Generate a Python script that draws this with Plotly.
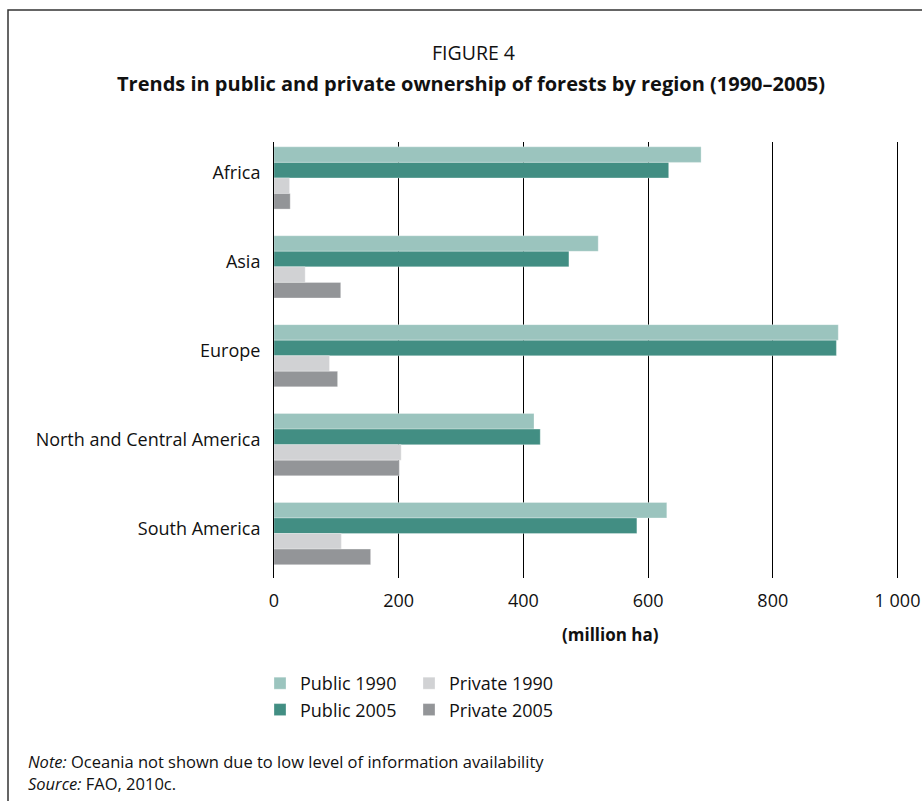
import plotly.graph_objects as go

regions = ["Africa", "Asia", "Europe", "North and Central America", "South America"]
public_1990 = [685, 520, 905, 417, 630]
public_2005 = [633, 473, 902, 427, 582]
private_1990 = [25, 50, 89, 204, 108]
private_2005 = [26, 107, 102, 201, 155]

x_ticks = [0, 200, 400, 600, 800, 1000]
x_tick_labels = ["0", "200", "400", "600", "800", "1 000"]

FONT = "Open Sans"

# plot area pixels
L, R, T, B = 274, 900, 142, 578
W, H = 922, 801
pw, ph = R - L, B - T
XMAX = 1004

def px(x):
    return (x - L) / pw

def py(y):
    return (B - y) / ph

series = [
    ("Public 1990", public_1990, "#9BC4BE", "legend"),
    ("Public 2005", public_2005, "#428E83", "legend"),
    ("Private 1990", private_1990, "#D1D2D4", "legend2"),
    ("Private 2005", private_2005, "#939598", "legend2"),
]

fig = go.Figure()
for name, vals, color, leg in series:
    fig.add_trace(go.Bar(
        y=regions, x=vals, name=name, orientation="h",
        marker=dict(color=color, line=dict(color="rgba(255,255,255,0.6)", width=0.5)),
        legend=leg,
    ))

fig.update_layout(
    width=W, height=H,
    margin=dict(l=L, r=W - R, t=T, b=H - B, autoexpand=False),
    paper_bgcolor="white", plot_bgcolor="white",
    barmode="group", bargap=0.30, bargroupgap=0,
    font=dict(family=FONT, color="#111", size=18),
    showlegend=True,
    legend=dict(x=px(260), y=py(665), xanchor="left", yanchor="top",
                orientation="v", traceorder="normal", tracegroupgap=0,
                font=dict(size=18, family=FONT), bgcolor="rgba(0,0,0,0)"),
    legend2=dict(x=px(409), y=py(665), xanchor="left", yanchor="top",
                 orientation="v", traceorder="normal", tracegroupgap=0,
                 font=dict(size=18, family=FONT), bgcolor="rgba(0,0,0,0)"),
)

fig.update_xaxes(
    range=[0, XMAX], tickvals=x_ticks, ticktext=x_tick_labels,
    showgrid=True, gridcolor="black", gridwidth=1,
    zeroline=False, showline=False, ticks="", ticklabelstandoff=10,
    tickfont=dict(size=18, family=FONT), fixedrange=True, automargin=False,
)
fig.update_yaxes(
    range=[4.5, -0.5 + (T - 133.5) / 89.0],
    showline=True, linecolor="black", linewidth=1,
    ticks="", ticklabelstandoff=9, ticklabelshift=5,
    tickfont=dict(size=18, family=FONT), fixedrange=True, automargin=False,
)

annotations = [
    dict(text="FIGURE 4", x=px(473), y=py(52), size=19.5),
    dict(text="<b>Trends in public and private ownership of forests by region (1990–2005)</b>",
         x=px(471), y=py(83), size=20),
    dict(text="<b>(million ha)</b>", x=px(610), y=py(634), size=17),
    dict(text="<i>Note:</i> Oceania not shown due to low level of information availability",
         x=px(26), y=py(761), xanchor="left", size=16.5),
    dict(text="<i>Source:</i> FAO, 2010c.",
         x=px(26), y=py(783), xanchor="left", size=16.5),
]
for a in annotations:
    a.setdefault("xanchor", "center")
    size = a.pop("size")
    fig.add_annotation(xref="paper", yref="paper", showarrow=False, yanchor="middle",
                       font=dict(family=FONT, color="#111", size=size), **a)

fig.add_shape(type="rect", xref="paper", yref="paper",
              x0=px(8), x1=px(940), y0=py(820), y1=py(10),
              line=dict(color="#333", width=1.5), layer="below")

fig.write_html(
    "out.html",
    config={"displayModeBar": False},
    post_script="document.body.style.margin='0';document.body.style.overflow='hidden';",
)
